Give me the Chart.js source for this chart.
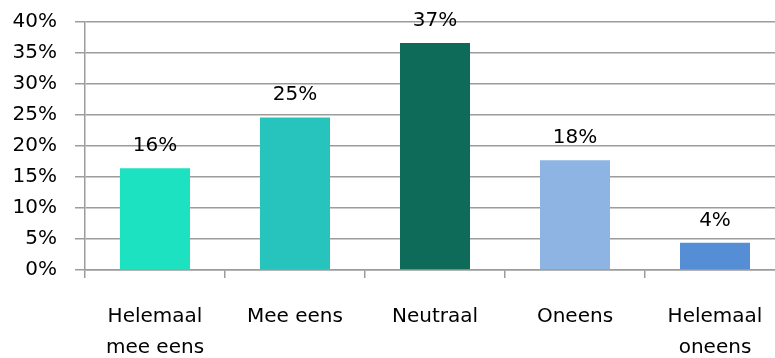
<!DOCTYPE html>
<html>
<head>
<meta charset="utf-8">
<script src="https://cdn.jsdelivr.net/npm/chart.js@4.4.1/dist/chart.umd.min.js"></script>
<style>
  html, body { margin: 0; padding: 0; background: #ffffff; }
  #wrap { width: 775px; height: 358px; overflow: hidden; position: relative; }
  canvas { display: block; }
</style>
</head>
<body>
<div id="wrap"><canvas id="c" width="800" height="358"></canvas></div>
<script>
// Answer categories (multi-line labels as arrays)
const categories = [
  ['Helemaal', 'mee eens'],
  'Mee eens',
  'Neutraal',
  'Oneens',
  ['Helemaal', 'oneens']
];
// Share of respondents, in percent
const shares = [16.4, 24.6, 36.6, 17.7, 4.4];
const barColors = ['#1ce2c1', '#27c4be', '#0e6b59', '#8db4e2', '#558ed5'];
// Y axis range and step, in percent
const yMin = 0, yMax = 40, yStep = 5;

const FONT = 'DejaVu Sans';
const gridColor = '#9c9c9c';

// Value labels above each bar
const valueLabels = {
  id: 'valueLabels',
  afterDatasetsDraw(chart) {
    const ctx = chart.ctx;
    const meta = chart.getDatasetMeta(0);
    ctx.save();
    ctx.font = '20px "' + FONT + '"';
    ctx.fillStyle = '#000000';
    ctx.textAlign = 'center';
    ctx.textBaseline = 'alphabetic';
    meta.data.forEach((bar, i) => {
      const v = chart.data.datasets[0].data[i];
      ctx.fillText(Math.round(v) + '%', bar.x, bar.y - 17);
    });
    ctx.restore();
  }
};

new Chart(document.getElementById('c'), {
  type: 'bar',
  data: {
    labels: categories,
    datasets: [{
      data: shares,
      backgroundColor: barColors,
      borderWidth: 0,
      barPercentage: 1,
      categoryPercentage: 0.5
    }]
  },
  options: {
    responsive: false,
    animation: false,
    layout: { padding: { top: 22, left: 13, right: 15, bottom: 0 } },
    plugins: {
      legend: { display: false },
      tooltip: { enabled: false }
    },
    scales: {
      x: {
        offset: true,
        grid: {
          offset: true,
          drawOnChartArea: false,
          drawTicks: true,
          tickLength: 8,
          color: gridColor,
          lineWidth: 1.5
        },
        border: { color: gridColor, width: 1.5 },
        ticks: {
          color: '#000000',
          font: { family: FONT, size: 20, lineHeight: 1.55 },
          padding: 23,
          maxRotation: 0,
          autoSkip: false
        },
        afterFit(scale) { scale.height = 88; }
      },
      y: {
        min: yMin,
        max: yMax,
        grid: {
          color: gridColor,
          lineWidth: 1.5,
          tickLength: 10
        },
        border: { color: gridColor, width: 1.5 },
        ticks: {
          stepSize: yStep,
          color: '#000000',
          font: { family: FONT, size: 20, lineHeight: 0.2 },
          padding: 18,
          callback: v => v + '%'
        },
        afterFit(scale) { scale.width = 72; }
      }
    }
  },
  plugins: [valueLabels]
});
</script>
</body>
</html>
